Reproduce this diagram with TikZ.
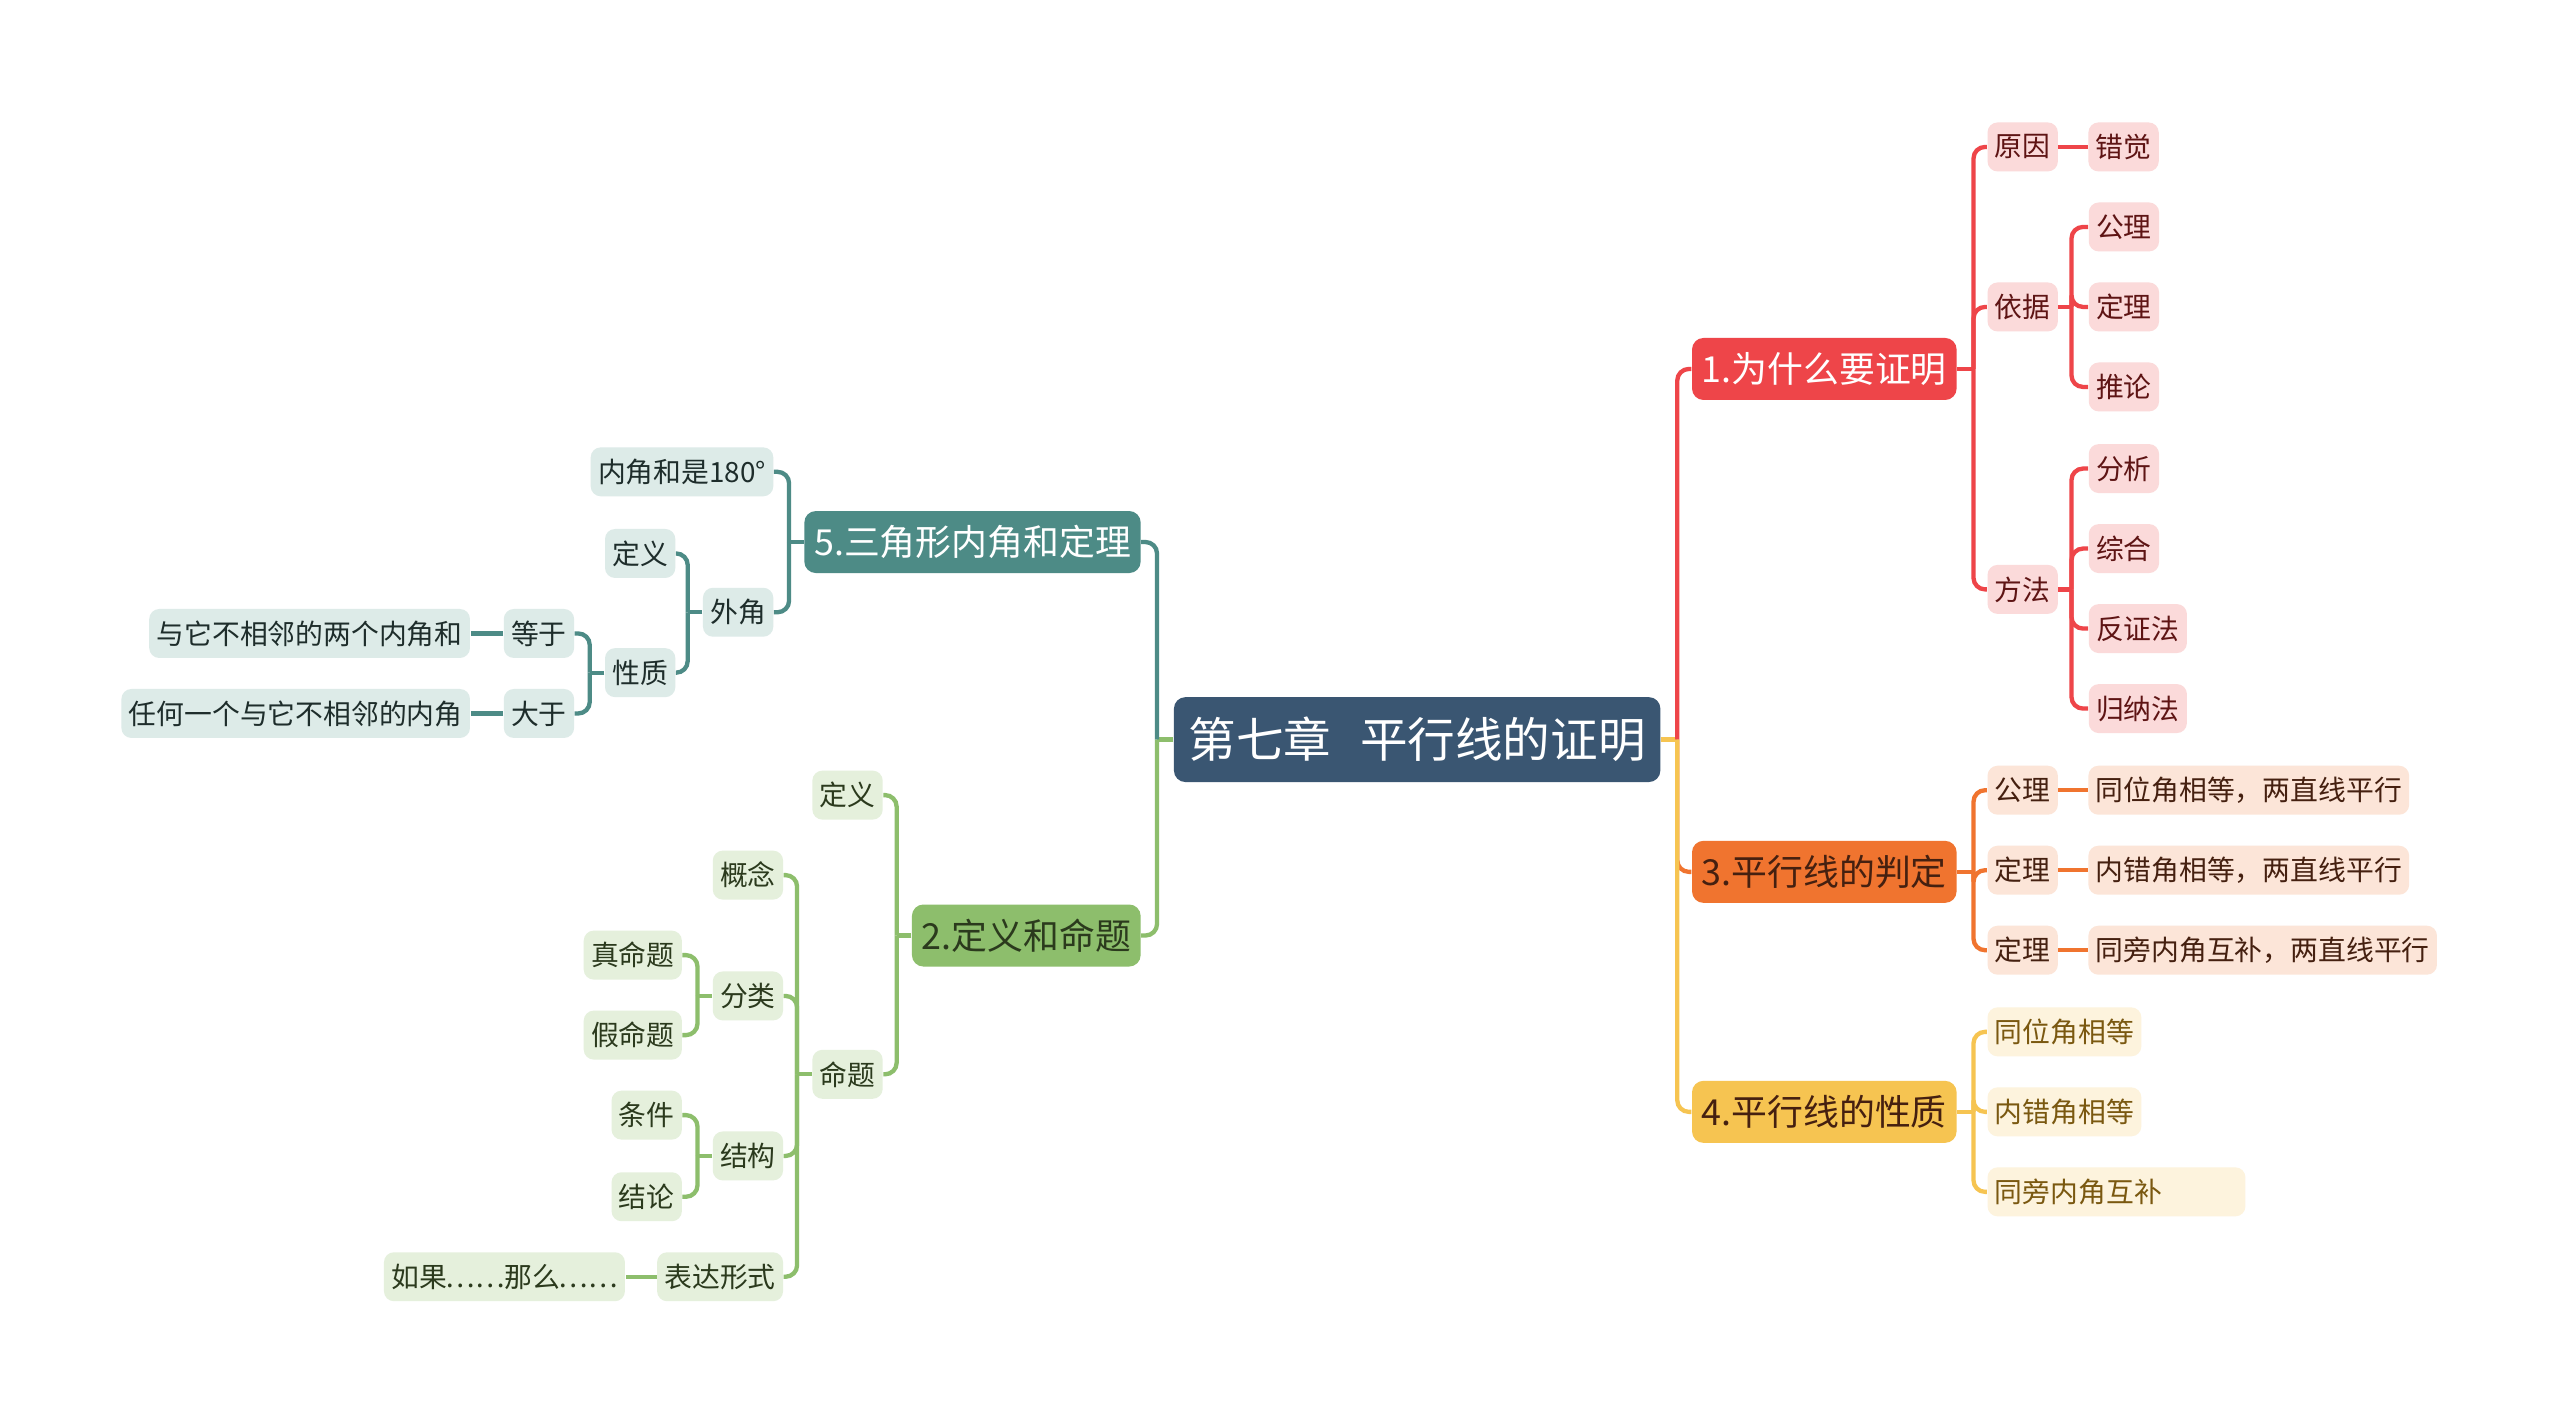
\documentclass[tikz,border=0pt]{standalone}
\usepackage{fontspec}
\newfontfamily\cjk{Noto Sans CJK SC}
\usetikzlibrary{positioning}
\definecolor{rootblue}{HTML}{3A5672}
\definecolor{cred}{HTML}{EE4549}
\definecolor{cpink}{HTML}{FBDADA}
\definecolor{credtext}{HTML}{5E1414}
\definecolor{corange}{HTML}{F0742F}
\definecolor{cpeach}{HTML}{FCE5D8}
\definecolor{corgtext}{HTML}{452010}
\definecolor{cyellow}{HTML}{F6C451}
\definecolor{ccream}{HTML}{FDF3DD}
\definecolor{cyeltext}{HTML}{7A5810}
\definecolor{cteal}{HTML}{4D8B86}
\definecolor{clteal}{HTML}{DDEBE8}
\definecolor{ctealtext}{HTML}{1E2D2B}
\definecolor{cgreen}{HTML}{8DBE6C}
\definecolor{cltgreen}{HTML}{E5F0DC}
\definecolor{cgrntext}{HTML}{2B3A1D}
\tikzset{
  root/.style={
    rectangle, rounded corners=4pt, fill=rootblue, text=white,
    font=\cjk\fontsize{16.6}{19}\selectfont, minimum height=1.04cm, inner xsep=0.16cm
  },
  topic/.style={
    rectangle, rounded corners=4pt,
    font=\cjk\fontsize{12.5}{15}\selectfont, minimum height=0.76cm, inner xsep=0.12cm
  },
  leaf/.style={
    rectangle, rounded corners=3.5pt,
    font=\cjk\fontsize{9.7}{12}\selectfont, minimum height=0.6cm, inner xsep=0.09cm, inner ysep=1pt
  },
  link/.style={line width=1.5pt, rounded corners=4pt},
  whytopic/.style={topic, fill=cred, text=white},
  whyleaf/.style={leaf, fill=cpink, text=credtext},
  whylink/.style={link, draw=cred},
  judgetopic/.style={topic, fill=corange, text=corgtext},
  judgeleaf/.style={leaf, fill=cpeach, text=corgtext},
  judgelink/.style={link, draw=corange},
  proptopic/.style={topic, fill=cyellow, text=corgtext},
  propleaf/.style={leaf, fill=ccream, text=cyeltext},
  proplink/.style={link, draw=cyellow},
  tritopic/.style={topic, fill=cteal, text=white},
  trileaf/.style={leaf, fill=clteal, text=ctealtext},
  trilink/.style={link, draw=cteal},
  deftopic/.style={topic, fill=cgreen, text=cgrntext},
  defleaf/.style={leaf, fill=cltgreen, text=cgrntext},
  deflink/.style={link, draw=cgreen}
}
\begin{document}
\begin{tikzpicture}[x=0.02cm, y=-0.02cm]
\fill[white] (0,0) rectangle (1568,872);
\useasboundingbox (0,0) rectangle (1568,872);

% centre
\node[root, minimum width=5.96cm] (root) at (868,453) {第七章\hspace{0.6em}平行线的证明};

% right topics
\node[whytopic, anchor=west] (why) at (1036,226) {1.为什么要证明};
\node[judgetopic, anchor=west] (judge) at (1036,534) {3.平行线的判定};
\node[proptopic, anchor=west] (prop) at (1036,681) {4.平行线的性质};

% left topics
\node[tritopic, anchor=east] (tri) at (699,332) {5.三角形内角和定理};
\node[deftopic, anchor=east] (def) at (699,573) {2.定义和命题};

% 1
\node[whyleaf, anchor=west] (reason) at (1217,90) {原因};
\node[whyleaf, right=0.36cm of reason] (illusion) {错觉};
\node[whyleaf, anchor=west] (basis) at (1217,188) {依据};
\node[whyleaf, anchor=west] (axiom) at (1279,139) {公理};
\node[whyleaf, anchor=west] (theorem) at (1279,188) {定理};
\node[whyleaf, anchor=west] (corollary) at (1279,237) {推论};
\node[whyleaf, anchor=west] (method) at (1217,361) {方法};
\node[whyleaf, anchor=west] (analysis) at (1279,287) {分析};
\node[whyleaf, anchor=west] (synthesis) at (1279,336) {综合};
\node[whyleaf, anchor=west] (contra) at (1279,385) {反证法};
\node[whyleaf, anchor=west] (induction) at (1279,434) {归纳法};

% 3
\node[judgeleaf, anchor=west] (jaxiom) at (1217,484) {公理};
\node[judgeleaf, right=0.36cm of jaxiom] (jrule1) {同位角相等，两直线平行};
\node[judgeleaf, anchor=west] (jthm1) at (1217,533) {定理};
\node[judgeleaf, right=0.36cm of jthm1] (jrule2) {内错角相等，两直线平行};
\node[judgeleaf, anchor=west] (jthm2) at (1217,582) {定理};
\node[judgeleaf, right=0.36cm of jthm2] (jrule3) {同旁内角互补，两直线平行};

% 4
\node[propleaf, anchor=west] (pcorr) at (1217,632) {同位角相等};
\node[propleaf, anchor=west] (palt) at (1217,681) {内错角相等};
\node[propleaf, anchor=west] (pside) at (1217,730) {\makebox[2.98cm][l]{同旁内角互补}};

% 5
\node[trileaf, anchor=east] (sum180) at (474,289) {内角和是180°};
\node[trileaf, anchor=east] (exterior) at (474,375) {外角};
\node[trileaf, anchor=east] (extdef) at (414,339) {定义};
\node[trileaf, anchor=east] (extprop) at (414,412) {性质};
\node[trileaf, anchor=east] (equal) at (352,388) {等于};
\node[trileaf, left=0.4cm of equal] (equaltxt) {与它不相邻的两个内角和};
\node[trileaf, anchor=east] (greater) at (352,437) {大于};
\node[trileaf, left=0.4cm of greater] (greatertxt) {任何一个与它不相邻的内角};

% 2
\node[defleaf, anchor=east] (defn) at (541,487) {定义};
\node[defleaf, anchor=east] (propo) at (541,658) {命题};
\node[defleaf, anchor=east] (concept) at (480,536) {概念};
\node[defleaf, anchor=east] (classify) at (480,610) {分类};
\node[defleaf, anchor=east] (truep) at (418,585) {真命题};
\node[defleaf, anchor=east] (falsep) at (418,634) {假命题};
\node[defleaf, anchor=east] (struct) at (480,708) {结构};
\node[defleaf, anchor=east] (cond) at (418,683) {条件};
\node[defleaf, anchor=east] (concl) at (418,733) {结论};
\node[defleaf, anchor=east] (form) at (480,782) {表达形式};
\node[defleaf, left=0.38cm of form] (ifthen) {如果{\kern-0.5pt……}那么{\kern-0.5pt……}};

% links from centre
\draw[proplink] (root.east) -- ++(10,0) coordinate (rj);
\draw[whylink] (rj) |- (why.west);
\draw[judgelink] (rj) |- (judge.west);
\draw[proplink] (rj) |- (prop.west);
\draw[deflink] (root.west) -- ++(-10,0) coordinate (lj);
\draw[trilink] (lj) |- (tri.east);
\draw[deflink] (lj) |- (def.east);

% links 1
\draw[whylink] (why.east) -- ++(10,0) coordinate (wj);
\foreach \n in {reason,basis,method} \draw[whylink] (wj) |- (\n.west);
\draw[whylink] (reason) -- (illusion);
\draw[whylink] (basis.east) -- ++(8,0) coordinate (bj);
\foreach \n in {axiom,theorem,corollary} \draw[whylink] (bj) |- (\n.west);
\draw[whylink] (method.east) -- ++(8,0) coordinate (mj);
\foreach \n in {analysis,synthesis,contra,induction} \draw[whylink] (mj) |- (\n.west);

% links 3
\draw[judgelink] (judge.east) -- ++(10,0) coordinate (gj);
\foreach \n in {jaxiom,jthm1,jthm2} \draw[judgelink] (gj) |- (\n.west);
\draw[judgelink] (jaxiom) -- (jrule1);
\draw[judgelink] (jthm1) -- (jrule2);
\draw[judgelink] (jthm2) -- (jrule3);

% links 4
\draw[proplink] (prop.east) -- ++(10,0) coordinate (pj);
\foreach \n in {pcorr,palt,pside} \draw[proplink] (pj) |- (\n.west);

% links 5
\draw[trilink] (tri.west) -- ++(-9,0) coordinate (tj);
\foreach \n in {sum180,exterior} \draw[trilink] (tj) |- (\n.east);
\draw[trilink] (exterior.west) -- ++(-9,0) coordinate (ej);
\foreach \n in {extdef,extprop} \draw[trilink] (ej) |- (\n.east);
\draw[trilink] (extprop.west) -- ++(-9,0) coordinate (xj);
\foreach \n in {equal,greater} \draw[trilink] (xj) |- (\n.east);
\draw[trilink] (equal) -- (equaltxt);
\draw[trilink] (greater) -- (greatertxt);

% links 2
\draw[deflink] (def.west) -- ++(-9,0) coordinate (dj);
\foreach \n in {defn,propo} \draw[deflink] (dj) |- (\n.east);
\draw[deflink] (propo.west) -- ++(-9,0) coordinate (qj);
\foreach \n in {concept,classify,struct,form} \draw[deflink] (qj) |- (\n.east);
\draw[deflink] (classify.west) -- ++(-9,0) coordinate (cj);
\foreach \n in {truep,falsep} \draw[deflink] (cj) |- (\n.east);
\draw[deflink] (struct.west) -- ++(-9,0) coordinate (sj);
\foreach \n in {cond,concl} \draw[deflink] (sj) |- (\n.east);
\draw[deflink] (form) -- (ifthen);
\end{tikzpicture}
\end{document}
